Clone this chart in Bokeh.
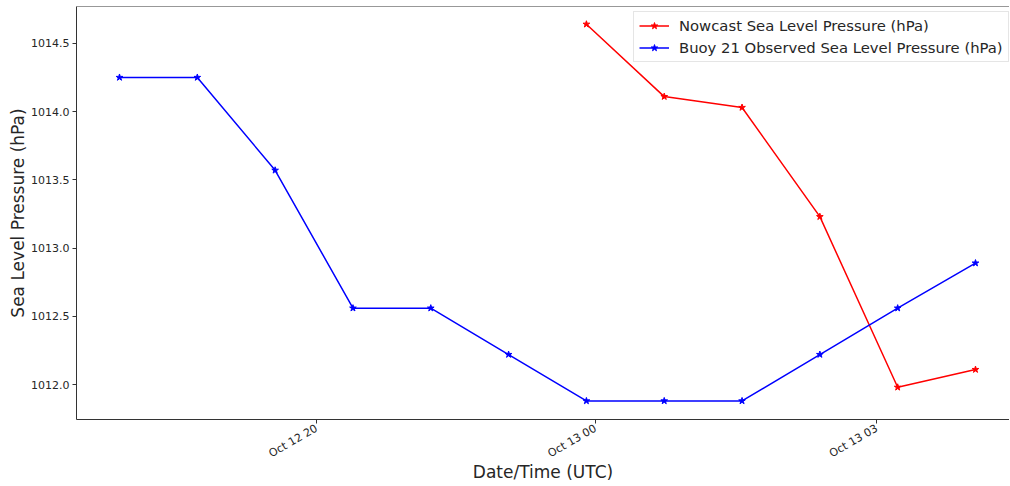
import math
from datetime import datetime, timedelta
from bokeh.plotting import figure
from bokeh.models import (Range1d, FixedTicker, DatetimeTickFormatter, NumeralTickFormatter,
                          Legend, LegendItem, Span, SingleIntervalTicker)
from bokeh.embed import file_html
from bokeh.resources import INLINE

# ---- data ----
buoy_times = [datetime(2022, 10, 12, 18) + timedelta(hours=h) for h in range(12)]
buoy_slp = [1014.25, 1014.25, 1013.57, 1012.56, 1012.56, 1012.22,
            1011.88, 1011.88, 1011.88, 1012.22, 1012.56, 1012.89]
nowcast_times = [datetime(2022, 10, 13, 0) + timedelta(hours=h) for h in range(6)]
nowcast_slp = [1014.64, 1014.11, 1014.03, 1013.23, 1011.98, 1012.11]
tick_times = [datetime(2022, 10, 12, 20, 32), datetime(2022, 10, 13, 0, 7), datetime(2022, 10, 13, 3, 44)]

t0 = buoy_times[0]
x_start = t0 + timedelta(hours=-0.5526)
x_end = t0 + timedelta(hours=11.437)

y_top = 1014.77
p = figure(frame_width=933, frame_height=413, output_backend="svg", toolbar_location=None,
           x_axis_type="datetime",
           x_range=Range1d(x_start, x_end), y_range=Range1d(1011.744, y_top),
           min_border_left=76, min_border_right=0, min_border_top=6, min_border_bottom=0)
p.outline_line_color = None
p.xgrid.visible = False
p.ygrid.visible = False
p.background_fill_color = "white"

r_now = p.line(nowcast_times, nowcast_slp, line_color="red", line_width=1.5)
s_now = p.scatter(nowcast_times, nowcast_slp, marker="star", size=7, color="red")
r_buoy = p.line(buoy_times, buoy_slp, line_color="blue", line_width=1.5)
s_buoy = p.scatter(buoy_times, buoy_slp, marker="star", size=7, color="blue")

# top spine
p.add_layout(Span(location=y_top, dimension="width", line_color="#333333", line_width=1))

tick_ms = [(t - datetime(1970, 1, 1)).total_seconds() * 1000 for t in tick_times]
p.xaxis.ticker = FixedTicker(ticks=tick_ms)
fmt = "%b %d %H"
p.xaxis.formatter = DatetimeTickFormatter(milliseconds=fmt, seconds=fmt, minsec=fmt, minutes=fmt,
                                          hourmin=fmt, hours=fmt, days=fmt, months=fmt, years=fmt)
p.xaxis.major_label_orientation = math.pi / 6
p.yaxis.ticker = SingleIntervalTicker(interval=0.5)
p.yaxis.formatter = NumeralTickFormatter(format="0.0")

for ax in (p.xaxis[0], p.yaxis[0]):
    ax.axis_line_color = "#333333"
    ax.axis_line_width = 1
    ax.major_tick_line_color = "#333333"
    ax.major_tick_out = 4
    ax.major_tick_in = 0
    ax.minor_tick_out = 0
    ax.minor_tick_in = 0
    ax.major_label_text_font = "DejaVu Sans"
    ax.major_label_text_font_size = "11px"
    ax.major_label_text_color = "#262626"
    ax.axis_label_text_font = "DejaVu Sans"
    ax.axis_label_text_font_size = "17px"
    ax.axis_label_text_font_style = "normal"
    ax.axis_label_text_color = "#262626"

p.xaxis.axis_label = "Date/Time (UTC)"
p.yaxis.axis_label = "Sea Level Pressure (hPa)"
p.xaxis.axis_label_standoff = -7
p.yaxis.axis_label_standoff = 0
p.xaxis.major_label_standoff = 4
p.yaxis.major_label_standoff = 3

legend = Legend(items=[
    LegendItem(label="Nowcast Sea Level Pressure (hPa)", renderers=[r_now, s_now]),
    LegendItem(label="Buoy 21 Observed Sea Level Pressure (hPa)", renderers=[r_buoy, s_buoy]),
], location=(557, 357))
legend.label_text_font = "DejaVu Sans"
legend.label_text_font_size = "14.8px"
legend.label_text_color = "#262626"
legend.glyph_width = 30
legend.glyph_height = 17
legend.label_height = 17
legend.label_standoff = 10
legend.spacing = 5
legend.padding = 5
legend.margin = 0
legend.border_line_color = "#cccccc"
legend.border_line_width = 1
legend.background_fill_alpha = 0.8
p.add_layout(legend)

open("out.html", "w").write(file_html(p, INLINE))
